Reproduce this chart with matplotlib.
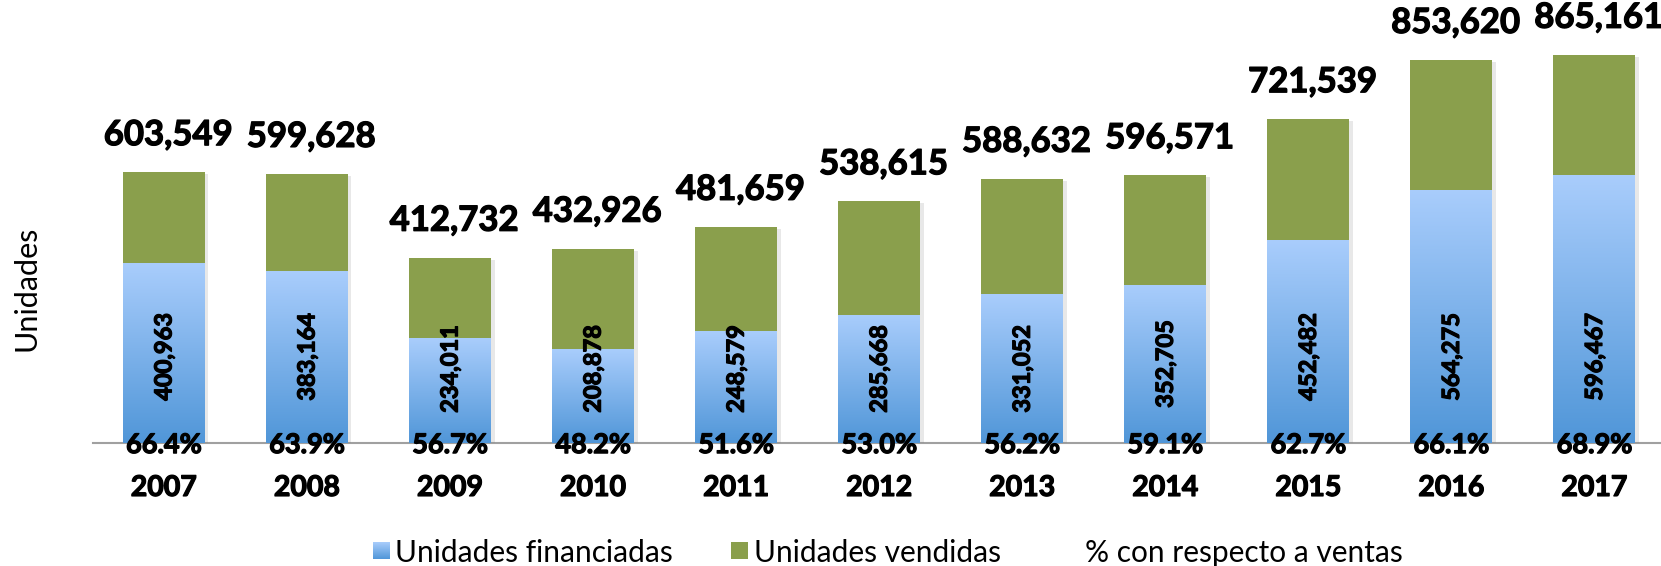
import numpy as np
import matplotlib
matplotlib.use("Agg")
import matplotlib.pyplot as plt
from matplotlib.patches import Rectangle
import matplotlib.patheffects as pe

# ---------------- data ----------------
years = ["2007", "2008", "2009", "2010", "2011", "2012", "2013", "2014", "2015", "2016", "2017"]
vendidas = [603549, 599628, 412732, 432926, 481659, 538615, 588632, 596571, 721539, 853620, 865161]
financiadas = [400963, 383164, 234011, 208878, 248579, 285668, 331052, 352705, 452482, 564275, 596467]
porcentaje = [66.4, 63.9, 56.7, 48.2, 51.6, 53.0, 56.2, 59.1, 62.7, 66.1, 68.9]
legend_labels = ["Unidades financiadas", "Unidades vendidas", "% con respecto a ventas"]

# ---------------- style ----------------
FONT = "Lato"
BLUE_TOP = np.array([169, 205, 252]) / 255
BLUE_BOT = np.array([80, 150, 216]) / 255
GREEN = "#8a9f4c"
THICK = [pe.withStroke(linewidth=0.9, foreground="black")]

W, H = 1661, 566
fig = plt.figure(figsize=(W / 100, H / 100), dpi=100)
ax = fig.add_axes([93 / W, 1 - 443 / H, 1 - 93 / W, 443 / H])

x = np.arange(len(years))
resto = [v - f for v, f in zip(vendidas, financiadas)]
bw = 0.573

shadow_fx = pe.SimplePatchShadow(offset=(2.5, -1.5), shadow_rgbFace="0.5", alpha=0.18)
b1 = ax.bar(x, financiadas, width=bw, color="none", edgecolor="none", zorder=2)
b2 = ax.bar(x, resto, bottom=financiadas, width=bw, color=GREEN, edgecolor="none", zorder=2,
            path_effects=[shadow_fx, pe.Normal()])

# gradient fill for the financed segments (with soft shadow)
grad = np.linspace(0, 1, 256)[:, None, None]
grad_img = BLUE_BOT[None, None, :] * (1 - grad) + BLUE_TOP[None, None, :] * grad
for rect in b1:
    x0, y0 = rect.get_x(), rect.get_y()
    w, h = rect.get_width(), rect.get_height()
    sh = Rectangle((x0, y0), w, h, facecolor="white", edgecolor="none", zorder=1.5,
                   path_effects=[shadow_fx, pe.Normal()])
    ax.add_patch(sh)
    im = ax.imshow(grad_img, extent=(x0, x0 + w, y0, y0 + h), origin="lower",
                   aspect="auto", zorder=2.1, interpolation="bilinear")
    im.set_clip_path(rect)

ax.set_xlim(-0.496, 10.465)
ax.set_ylim(0, 987500)

# spines / ticks
for s in ["top", "right", "left"]:
    ax.spines[s].set_visible(False)
ax.spines["bottom"].set_color("#a0a0a0")
ax.spines["bottom"].set_linewidth(1.5)
ax.spines["bottom"].set_zorder(1)
ax.set_yticks([])
ax.set_xticks(x)
ax.set_xticklabels(years, fontfamily=FONT, fontweight="bold", fontsize=20.5)
for t in ax.get_xticklabels():
    t.set_path_effects(THICK)
ax.tick_params(axis="x", length=0, pad=23)

# total labels
for xi, v in zip(x, vendidas):
    ax.annotate(f"{v:,}", (xi, v), xytext=(3, 19.5), textcoords="offset points",
                ha="center", va="baseline", fontfamily=FONT, fontweight="bold", fontsize=25,
                zorder=5, path_effects=THICK)

# financed labels (rotated, inside blue segment)
for xi, f in zip(x, financiadas):
    yc = min(max(f / 2, 165000), 192000)
    ax.text(xi, yc, f"{f:,}", rotation=90, ha="center", va="center", fontfamily=FONT,
            fontweight="bold", fontsize=17, zorder=5, path_effects=THICK)

# percentage labels at baseline
for xi, p in zip(x, porcentaje):
    ax.annotate(f"{p:.1f}%", (xi, 0), xytext=(0, -1.5), textcoords="offset points",
                ha="center", va="center", fontfamily=FONT, fontweight="bold", fontsize=19.5,
                zorder=5, path_effects=THICK)

# y label
fig.text(26 / W, 1 - 288 / H, "Unidades", rotation=90, ha="center", va="center",
         fontfamily=FONT, fontsize=22)

# legend (manual)
sq = 17
ly = 1 - 559 / H
lax = fig.add_axes([373 / W, ly, sq / W, sq / H])
lax.imshow(grad_img, origin="lower", aspect="auto", interpolation="bilinear")
lax.set_axis_off()
green_patch = Rectangle((731 / W, ly), sq / W, sq / H, transform=fig.transFigure,
                        facecolor=GREEN, edgecolor="none")
fig.patches.append(green_patch)
ty = 1 - 562 / H
for xx, lab in zip([395, 754, 1085], legend_labels):
    fig.text(xx / W, ty, lab, ha="left", va="baseline", fontfamily=FONT, fontsize=21.5)

fig.savefig("out.png", dpi=100)
